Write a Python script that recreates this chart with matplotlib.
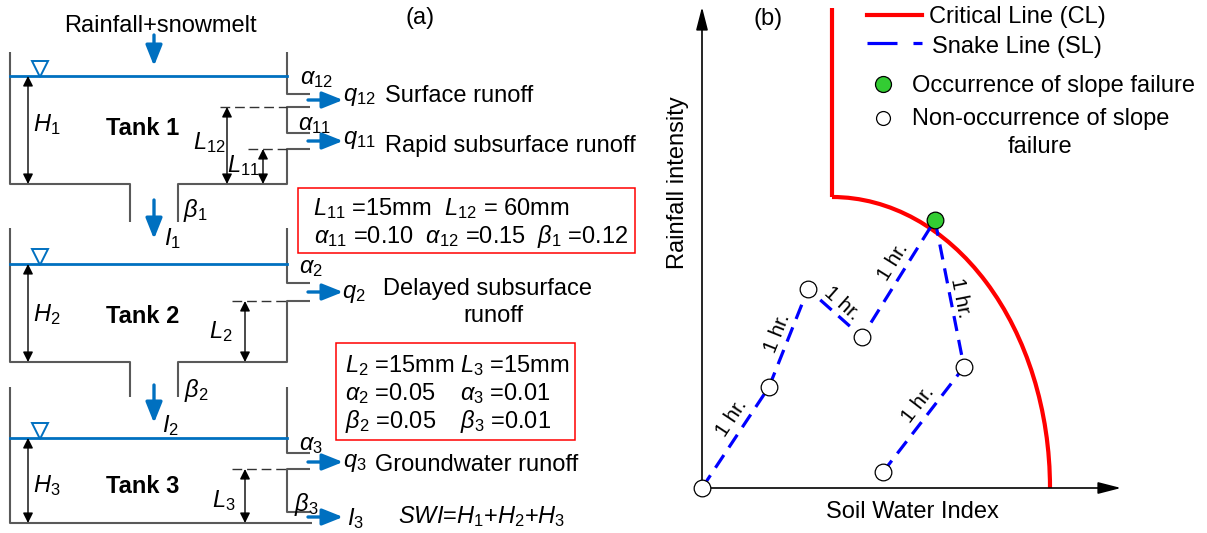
import numpy as np
import matplotlib.pyplot as plt
from matplotlib.patches import Arc, Rectangle

plt.rcParams['font.family'] = ['Liberation Sans', 'DejaVu Sans']
plt.rcParams['mathtext.fontset'] = 'custom'
plt.rcParams['mathtext.rm'] = 'Liberation Sans'
plt.rcParams['mathtext.it'] = 'Liberation Sans:italic'
plt.rcParams['mathtext.bf'] = 'Liberation Sans:bold'
plt.rcParams['lines.scale_dashes'] = False

# (a) tank model parameters
box1_lines = [r'$L_\mathrm{11}$ =15mm  $L_\mathrm{12}$ = 60mm',
              r'$\alpha_\mathrm{11}$ =0.10  $\alpha_\mathrm{12}$ =0.15  $\beta_\mathrm{1}$ =0.12']
box2_col1 = [r'$L_\mathrm{2}$ =15mm', r'$\alpha_\mathrm{2}$ =0.05', r'$\beta_\mathrm{2}$ =0.05']
box2_col2 = [r'$L_\mathrm{3}$ =15mm', r'$\alpha_\mathrm{3}$ =0.01', r'$\beta_\mathrm{3}$ =0.01']

# (b) snake line: soil water index vs rainfall intensity (arbitrary units)
snake_swi = [0, 67, 106, 160, 233, 262, 181]
snake_ri = [0, 101, 199, 151, 268, 121, 16]
failure_idx = 4
hr_pos = [(30, 70), (75, 155), (140, 185), (191, 226), (258, 190), (216, 83)]
# critical line
cl_swi = 130
cl_top = 480
cl_knee = 291
cl_end = 348

W, H = 1207, 533
fig = plt.figure(figsize=(W / 100, H / 100), dpi=100)
ax = fig.add_axes([0, 0, 1, 1])
ax.set_xlim(0, W)
ax.set_ylim(H, 0)
ax.axis('off')

blue = '#0070C0'
wall = '#595959'
FS = 17


def line(pts, **kw):
    xs, ys = zip(*pts)
    ax.plot(xs, ys, solid_capstyle='butt', **kw)


def arrow(a, x0, y0, x1, y1, style, ms, color, lw):
    a.annotate('', xy=(x1, y1), xytext=(x0, y0),
               arrowprops=dict(arrowstyle=style, mutation_scale=ms, color=color,
                               lw=lw, shrinkA=0, shrinkB=0))


# ---------------- (a) tanks ----------------
walls = [
    [(10, 52), (10, 184), (130, 184), (130, 222)],
    [(287, 52), (287, 94), (310, 94)],
    [(310, 107), (287, 107), (287, 133), (310, 133)],
    [(310, 149), (287, 149), (287, 184), (178, 184), (178, 222)],
    [(10, 228), (10, 362), (130, 362), (130, 397)],
    [(287, 228), (287, 283), (310, 283)],
    [(310, 301), (287, 301), (287, 362), (178, 362), (178, 397)],
    [(10, 387), (10, 523), (312, 523)],
    [(287, 387), (287, 453), (310, 453)],
    [(310, 469), (287, 469), (287, 512), (310, 512)],
]
for w in walls:
    line(w, color=wall, lw=1.5)

for x0, y in [(220, 107), (248, 149), (232, 301), (232, 469)]:
    ax.plot([x0, 287], [y, y], color='#333333', lw=1, dashes=(7, 3.5))

for y in (76, 264, 438):
    ax.plot([10, 287], [y, y], color=blue, lw=2)
    ax.plot(40, y - 7, marker='v', ms=11, mfc='white', mec=blue, mew=1.4)

dim_style = '<|-|>,head_length=0.4,head_width=0.2'
for x, y0, y1 in [(28, 76, 184), (227, 107, 184), (263, 149, 184),
                  (28, 264, 362), (245, 301, 362), (28, 438, 523), (245, 469, 523)]:
    arrow(ax, x, y1, x, y0, dim_style, 15, 'k', 1)

flow_style = '-|>,head_length=1.25,head_width=0.5'
for y in (100, 141, 292, 462, 517):
    arrow(ax, 308, y, 343, y, flow_style, 10, blue, 2.4)
for y0, y1 in ((35, 66), (200, 239), (385, 423)):
    arrow(ax, 154, y0, 154, y1, flow_style, 10, blue, 2.4)

ax.text(160, 32, 'Rainfall+snowmelt', fontsize=FS, ha='center', va='baseline')
ax.text(420, 18, '(a)', fontsize=FS, ha='center', va='center')
for y, s in [(135, 'Tank 1'), (323, 'Tank 2'), (493, 'Tank 3')]:
    ax.text(143, y, s, fontsize=FS, fontweight='bold', ha='center', va='baseline')

math_labels = [
    (317, 79, r'$\alpha_\mathrm{12}$'), (315, 125, r'$\alpha_\mathrm{11}$'),
    (47, 125, r'$H_\mathrm{1}$'), (209, 143, r'$L_\mathrm{12}$'), (243, 166, r'$L_\mathrm{11}$'),
    (195, 211, r'$\beta_\mathrm{1}$'), (172, 239, r'$I_\mathrm{1}$'),
    (311, 268, r'$\alpha_\mathrm{2}$'), (47, 315, r'$H_\mathrm{2}$'), (221, 332, r'$L_\mathrm{2}$'),
    (196, 390, r'$\beta_\mathrm{2}$'), (170, 426, r'$I_\mathrm{2}$'),
    (311, 445, r'$\alpha_\mathrm{3}$'), (47, 486, r'$H_\mathrm{3}$'), (224, 501, r'$L_\mathrm{3}$'),
    (306, 505, r'$\beta_\mathrm{3}$'),
]
for x, y, s in math_labels:
    ax.text(x, y, s, fontsize=FS, ha='center', va='center')

q_labels = [(343, 97, r'$q_\mathrm{12}$'), (343, 140, r'$q_\mathrm{11}$'),
            (342, 294, r'$q_\mathrm{2}$'), (343, 463, r'$q_\mathrm{3}$'), (347, 519, r'$I_\mathrm{3}$')]
for x, y, s in q_labels:
    ax.text(x, y, s, fontsize=FS, ha='left', va='center')

ax.text(385, 102, 'Surface runoff', fontsize=FS, va='baseline')
ax.text(385, 152, 'Rapid subsurface runoff', fontsize=FS, va='baseline')
ax.text(383, 295, 'Delayed subsurface', fontsize=FS, va='baseline')
ax.text(493, 322, 'runoff', fontsize=FS, ha='center', va='baseline')
ax.text(375, 471, 'Groundwater runoff', fontsize=FS, va='baseline')
ax.text(398, 517, r'$SWI$=$H_\mathrm{1}$+$H_\mathrm{2}$+$H_\mathrm{3}$', fontsize=FS, va='center')

ax.add_patch(Rectangle((298, 188), 337, 65, fill=False, ec='red', lw=1.1))
ax.text(313, 215, box1_lines[0], fontsize=FS, va='baseline')
ax.text(314, 243, box1_lines[1], fontsize=FS, va='baseline')
ax.add_patch(Rectangle((336, 343), 239, 97, fill=False, ec='red', lw=1.1))
for k, y in enumerate((372, 400, 428)):
    ax.text(345, y, box2_col1[k], fontsize=FS, va='baseline')
    ax.text(460, y, box2_col2[k], fontsize=FS, va='baseline')

# ---------------- (b) snake line ----------------
axb = fig.add_axes([702 / W, 45 / H, (W - 702) / W, 488 / H])
axb.set_xlim(0, W - 702)
axb.set_ylim(0, 488)
axb.axis('off')

ax_style = '-|>,head_length=1.4,head_width=0.36'
arrow(axb, 0, 0, 419, 0, ax_style, 10, 'k', 1.2)
arrow(axb, 0, 0, 0, 481, ax_style, 10, 'k', 1.2)

axb.plot([cl_swi, cl_swi], [cl_top, cl_knee], color='red', lw=3, solid_capstyle='butt', zorder=2)
axb.add_patch(Arc((cl_swi, 0), 2 * (cl_end - cl_swi), 2 * cl_knee, theta1=0, theta2=90,
                  color='red', lw=3, zorder=2))
axb.plot(snake_swi, snake_ri, color='blue', lw=2.3, dashes=(11, 6.5), zorder=3, clip_on=False)
for i, (x, y) in enumerate(zip(snake_swi, snake_ri)):
    fc = '#33CC33' if i == failure_idx else 'white'
    axb.plot(x, y, 'o', ms=12, mfc=fc, mec='k', mew=0.9, zorder=5, clip_on=False)

for k, (x, y) in enumerate(hr_pos):
    dx = snake_swi[k + 1] - snake_swi[k]
    dy = snake_ri[k + 1] - snake_ri[k]
    ang = np.degrees(np.arctan2(dy, dx))
    if ang > 90:
        ang -= 180
    if ang < -90:
        ang += 180
    axb.text(x, y, '1 hr.', rotation=ang, rotation_mode='anchor',
             ha='center', va='center', fontsize=15)

ax.text(768, 19, '(b)', fontsize=FS, ha='center', va='center')
ax.text(678, 183, 'Rainfall intensity', fontsize=FS, rotation=90, ha='center', va='center')
ax.text(912, 518, 'Soil Water Index', fontsize=FS, ha='center', va='baseline')

# legend
ax.plot([867, 922], [15, 15], color='red', lw=3)
ax.plot([867, 922], [43, 43], color='blue', lw=2.3, dashes=(21.6, 11.5))
ax.plot(883, 84, 'o', ms=11.5, mfc='#33CC33', mec='k', mew=0.9)
ax.plot(883, 118, 'o', ms=10, mfc='white', mec='k', mew=0.9)
ax.text(929, 23, 'Critical Line (CL)', fontsize=FS, va='baseline')
ax.text(932, 53, 'Snake Line (SL)', fontsize=FS, va='baseline')
ax.text(912, 92, 'Occurrence of slope failure', fontsize=FS, va='baseline')
ax.text(912, 125, 'Non-occurrence of slope', fontsize=FS, va='baseline')
ax.text(1040, 153, 'failure', fontsize=FS, ha='center', va='baseline')

fig.savefig('out.png', dpi=100)
